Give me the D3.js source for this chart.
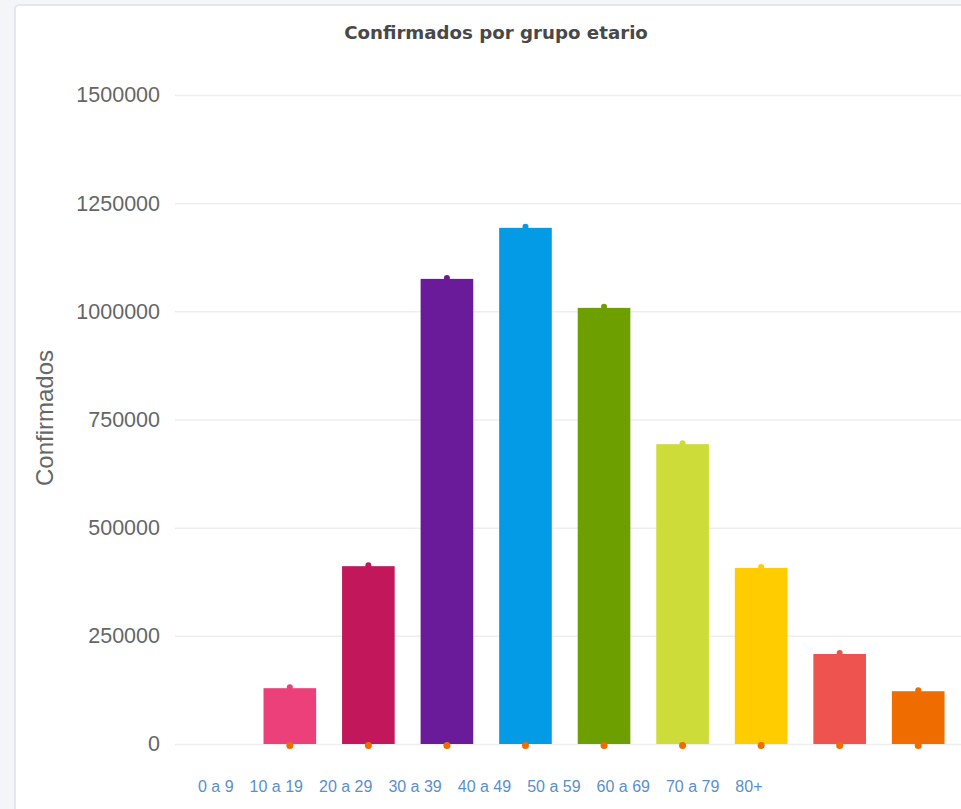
<!DOCTYPE html>
<html>
<head>
<meta charset="utf-8">
<script src="https://cdn.jsdelivr.net/npm/d3@7"></script>
<style>
  html, body { margin: 0; padding: 0; background: #f4f5f8; }
  svg { display: block; }
</style>
</head>
<body>
<div id="chart"></div>
<script>
const ageGroups = ['0 a 9', '10 a 19', '20 a 29', '30 a 39', '40 a 49', '50 a 59', '60 a 69', '70 a 79', '80+'];

// bar slots as drawn: the first slot stays empty
const confirmed = [null, 129000, 411000, 1075000, 1193000, 1008000, 693000, 407000, 208000, 122000];
const baseline = [null, 0, 0, 0, 0, 0, 0, 0, 0, 0];
const barColors = [null, '#ec407a', '#c2185b', '#6a1b9a', '#039be5', '#6e9f00', '#cddc39', '#ffcc00', '#ef5350', '#ef6c00'];

const yTicks = [0, 250000, 500000, 750000, 1000000, 1250000, 1500000];

const width = 961;
const height = 809;

const svg = d3.select('#chart').append('svg')
    .attr('width', width)
    .attr('height', height);

// card
svg.append('rect')
    .attr('x', 15)
    .attr('y', 5)
    .attr('rx', 4)
    .attr('width', width + 20)
    .attr('height', height + 20)
    .attr('fill', 'white')
    .attr('stroke', '#e3e6ee')
    .attr('stroke-width', 2);

const x = d3.scaleBand()
    .domain(d3.range(confirmed.length))
    .range([172, 957.5])
    .paddingInner(0.33)
    .paddingOuter(0.165);

const y = d3.scaleLinear()
    .domain([0, 1500000])
    .range([744, 95]);

// title
svg.append('text')
    .attr('x', 496)
    .attr('y', 39)
    .attr('text-anchor', 'middle')
    .attr('font-family', 'DejaVu Sans')
    .attr('font-weight', 'bold')
    .attr('font-size', 18.2)
    .attr('fill', '#484848')
    .text('Confirmados por grupo etario');

// y axis
const yAxis = svg.append('g')
    .attr('transform', 'translate(175,0)')
    .call(d3.axisLeft(y).tickValues(yTicks).tickSize(-(width - 175)).tickPadding(15).tickFormat(d3.format('d')));

yAxis.select('.domain').remove();
yAxis.selectAll('.tick line')
    .attr('stroke', '#eeeeee')
    .attr('stroke-width', 1.5);
yAxis.selectAll('.tick text')
    .attr('font-family', 'Liberation Sans')
    .attr('font-size', 21.5)
    .attr('fill', '#666');

svg.append('text')
    .attr('transform', 'translate(53,418) rotate(-90)')
    .attr('text-anchor', 'middle')
    .attr('font-family', 'Liberation Sans')
    .attr('font-size', 24)
    .attr('fill', '#666')
    .text('Confirmados');

// bars
const bars = confirmed.map((v, i) => ({i, v, color: barColors[i]})).filter(d => d.v !== null);

svg.selectAll('.bar')
  .data(bars)
  .join('rect')
    .attr('class', 'bar')
    .attr('x', d => x(d.i))
    .attr('y', d => y(d.v))
    .attr('width', x.bandwidth())
    .attr('height', d => y(0) - y(d.v))
    .attr('fill', d => d.color);

svg.selectAll('.top-dot')
  .data(bars)
  .join('circle')
    .attr('class', 'top-dot')
    .attr('cx', d => x(d.i) + x.bandwidth() / 2)
    .attr('cy', d => y(d.v) - 1)
    .attr('r', 3)
    .attr('fill', d => d.color);

const dots = baseline.map((v, i) => ({i, v})).filter(d => d.v !== null);

svg.selectAll('.base-dot')
  .data(dots)
  .join('circle')
    .attr('class', 'base-dot')
    .attr('cx', d => x(d.i) + x.bandwidth() / 2)
    .attr('cy', d => y(d.v) + 1.5)
    .attr('r', 3.5)
    .attr('fill', '#ef6c00');

// category labels flow inline, one after another
const labels = svg.append('g')
    .attr('transform', 'translate(198,792)');

let cursor = 0;
labels.selectAll('text')
  .data(ageGroups)
  .join('text')
    .attr('font-family', 'Liberation Sans')
    .attr('font-size', 16)
    .attr('fill', '#5a8fcc')
    .text(d => d)
    .each(function() {
      d3.select(this).attr('x', cursor);
      cursor += this.getComputedTextLength() + 16;
    });
</script>
</body>
</html>
